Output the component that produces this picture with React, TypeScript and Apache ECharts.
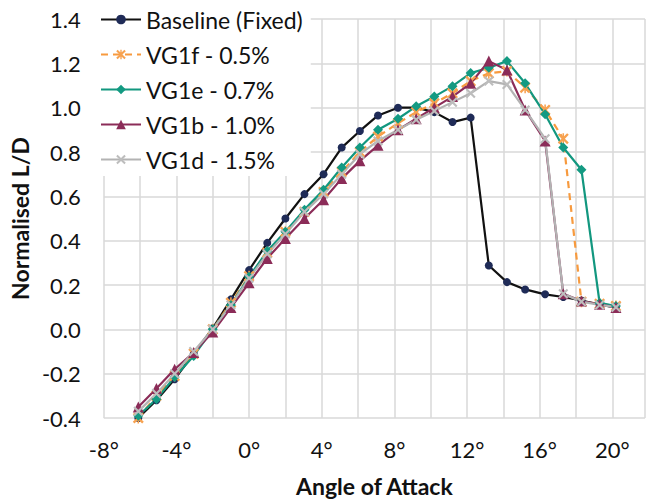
import React, { useEffect, useRef } from "react";
import * as echarts from "echarts";

const angles = [-6.1, -5.1, -4.1, -3.05, -2, -1, 0, 1, 2, 3.05, 4.1, 5.1, 6.1, 7.1, 8.2, 9.2, 10.2, 11.2, 12.2, 13.2, 14.2, 15.2, 16.3, 17.3, 18.3, 19.3, 20.2];

const baseline = [-0.4, -0.32, -0.225, -0.11, 0.005, 0.135, 0.267, 0.39, 0.5, 0.61, 0.7, 0.82, 0.895, 0.965, 1.0, 1.0, 0.98, 0.935, 0.955, 0.288, 0.213, 0.18, 0.158, 0.146, 0.13, 0.112, 0.098];
const vg1f = [-0.4, -0.3, -0.21, -0.11, 0.0, 0.12, 0.24, 0.345, 0.44, 0.53, 0.62, 0.71, 0.8, 0.87, 0.93, 0.98, 1.02, 1.065, 1.12, 1.155, 1.165, 1.09, 0.99, 0.86, 0.125, 0.115, 0.105];
const vg1e = [-0.39, -0.315, -0.215, -0.12, 0.0, 0.11, 0.237, 0.353, 0.44, 0.54, 0.63, 0.73, 0.82, 0.9, 0.95, 1.006, 1.05, 1.097, 1.156, 1.18, 1.21, 1.11, 0.97, 0.82, 0.72, 0.12, 0.105];
const vg1b = [-0.35, -0.267, -0.18, -0.105, -0.012, 0.098, 0.21, 0.32, 0.41, 0.5, 0.585, 0.68, 0.76, 0.83, 0.9, 0.95, 1.0, 1.05, 1.11, 1.21, 1.17, 0.99, 0.85, 0.16, 0.128, 0.113, 0.098];
const vg1d = [-0.37, -0.29, -0.2, -0.1, 0.0, 0.11, 0.23, 0.34, 0.43, 0.53, 0.61, 0.7, 0.79, 0.85, 0.9, 0.945, 0.985, 1.025, 1.065, 1.12, 1.105, 0.99, 0.86, 0.16, 0.125, 0.11, 0.1];

const seriesNames = ["Baseline (Fixed)", "VG1f - 0.5%", "VG1e - 0.7%", "VG1b - 1.0%", "VG1d - 1.5%"];
const xTitle = "Angle of Attack";
const yTitle = "Normalised L/D";

const crossPath = "path://M0,1.5 L1.5,0 L5,3.5 L8.5,0 L10,1.5 L6.5,5 L10,8.5 L8.5,10 L5,6.5 L1.5,10 L0,8.5 L3.5,5 Z";
const starPath = "path://M0,1.5 L1.5,0 L5,3.5 L8.5,0 L10,1.5 L6.5,5 L10,8.5 L8.5,10 L5,6.5 L1.5,10 L0,8.5 L3.5,5 Z M4.3,0 L5.7,0 L5.7,10 L4.3,10 Z";

const FONT = "Lato, 'Open Sans', sans-serif";

export default function App() {
  const ref = useRef<HTMLDivElement>(null);
  useEffect(() => {
    if (!ref.current) return;
    const chart = echarts.init(ref.current, undefined, { renderer: "svg" });
    const mk = (vals: number[]) => angles.map((a, i) => [a, vals[i]]);
    const gridLine = { show: true, lineStyle: { color: "#d9d9d9", width: 1.5 } };
    chart.setOption({
      animation: false,
      backgroundColor: "#ffffff",
      grid: { left: 101, right: 0, top: 19, bottom: 82, containLabel: false },
      legend: {
        orient: "vertical",
        left: 97,
        top: 3,
        padding: [5, 8, 5, 3],
        itemWidth: 40,
        itemHeight: 12,
        itemGap: 12,
        backgroundColor: "#ffffff",
        textStyle: { fontFamily: FONT, fontSize: 23, lineHeight: 20, color: "#111" },
        data: seriesNames,
      },
      xAxis: {
        type: "value",
        min: -8,
        max: 21.8,
        interval: 2,
        axisLine: { show: false },
        axisTick: { show: false },
        splitLine: gridLine,
        axisLabel: {
          fontFamily: FONT,
          fontSize: 22,
          color: "#111",
          margin: 20,
          formatter: (v: number) => (Math.abs(v % 4) < 1e-9 ? `${Math.round(v)}°` : ""),
        },
        name: xTitle,
        nameLocation: "middle",
        nameGap: 56,
        nameTextStyle: { fontFamily: FONT, fontSize: 23, fontWeight: "bold", color: "#111" },
      },
      yAxis: {
        type: "value",
        min: -0.4,
        max: 1.4,
        interval: 0.2,
        axisLine: { show: false },
        axisTick: { show: false },
        splitLine: gridLine,
        axisLabel: {
          fontFamily: FONT,
          fontSize: 22,
          color: "#111",
          margin: 23,
          formatter: (v: number) => (Math.abs(v) < 1e-9 ? "0.0" : v.toFixed(1)),
        },
        name: yTitle,
        nameLocation: "middle",
        nameGap: 67,
        nameRotate: 90,
        nameTextStyle: { fontFamily: FONT, fontSize: 23, fontWeight: "bold", color: "#111" },
      },
      series: [
        {
          type: "line",
          name: seriesNames[0],
          data: mk(baseline),
          symbol: "circle",
          symbolSize: 8,
          clip: false,
          lineStyle: { color: "#111111", width: 2.2 },
          itemStyle: { color: "#1f2b57" },
          emphasis: { disabled: true },
        },
        {
          type: "line",
          name: seriesNames[1],
          data: mk(vg1f),
          symbol: starPath,
          symbolSize: 11,
          clip: false,
          lineStyle: { color: "#f79a3e", width: 2.2, type: [7, 5] },
          itemStyle: { color: "#f7a250" },
          emphasis: { disabled: true },
        },
        {
          type: "line",
          name: seriesNames[2],
          data: mk(vg1e),
          symbol: "diamond",
          symbolSize: 10,
          clip: false,
          lineStyle: { color: "#12977f", width: 2.2 },
          itemStyle: { color: "#139a82" },
          emphasis: { disabled: true },
        },
        {
          type: "line",
          name: seriesNames[3],
          data: mk(vg1b),
          symbol: "triangle",
          symbolSize: 11,
          clip: false,
          lineStyle: { color: "#8b2c58", width: 2.2 },
          itemStyle: { color: "#8b2c58" },
          emphasis: { disabled: true },
        },
        {
          type: "line",
          name: seriesNames[4],
          data: mk(vg1d),
          symbol: crossPath,
          symbolSize: 10,
          clip: false,
          lineStyle: { color: "#b3b3b3", width: 2.2 },
          itemStyle: { color: "#bdbdbd" },
          emphasis: { disabled: true },
        },
      ],
    });
    return () => chart.dispose();
  }, []);
  return (
    <div
      ref={ref}
      style={{ position: "absolute", left: 0, top: 0, width: 648, height: 502, background: "#fff" }}
    />
  );
}
